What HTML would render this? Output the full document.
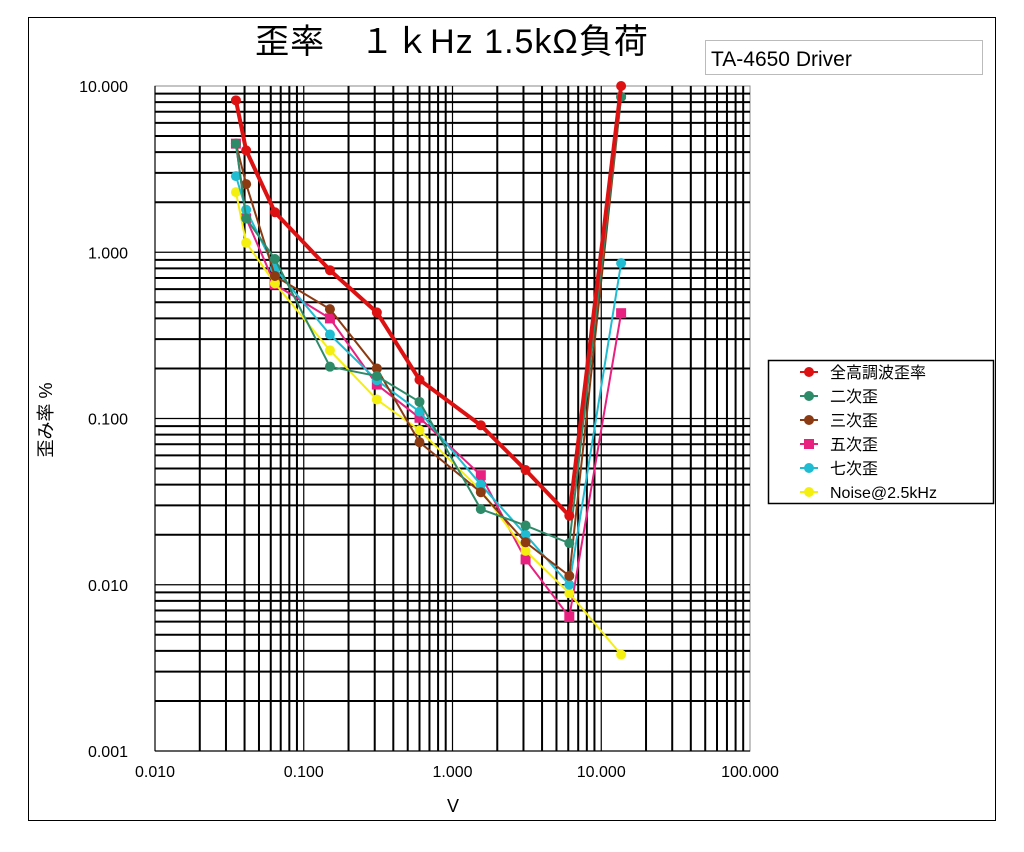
<!DOCTYPE html>
<html><head><meta charset="utf-8">
<style>
html,body{margin:0;padding:0;background:#fff;}
body{width:1024px;height:847px;position:relative;overflow:hidden;font-family:"Liberation Sans","Noto Sans CJK JP",sans-serif;}
svg text{font-family:"Liberation Sans","Noto Sans CJK JP",sans-serif;}
</style></head>
<body>
<svg id="chart" width="1024" height="847" viewBox="0 0 1024 847" xmlns="http://www.w3.org/2000/svg">
<rect x="28.5" y="17.5" width="967" height="803" fill="#fff" stroke="#000" stroke-width="1"/>
<text x="452" y="53" font-size="34" text-anchor="middle" fill="#000" letter-spacing="1">歪率　１ｋHz 1.5kΩ負荷</text>
<rect x="705.5" y="40.5" width="277" height="34" fill="#fff" stroke="#bbb"/>
<text x="711" y="66" font-size="21" fill="#000">TA-4650 Driver</text>
<g id="grid"></g>
<g id="axes"></g>
<g id="series"></g>
<text x="453" y="812" font-size="18" text-anchor="middle">V</text>
<text transform="translate(52,420) rotate(-90)" font-size="18" text-anchor="middle">歪み率 %</text>
<g>
<rect x="768.5" y="360.5" width="225" height="143" fill="#fff" stroke="#000" stroke-width="1.5"/>
<g id="legend-items"></g>
</g>
</svg>
<script>
const xValues = [0.035,0.041,0.064,0.15,0.31,0.6,1.55,3.1,6.1,13.6];
const thdValues = [8.2,4.1,1.74,0.78,0.435,0.171,0.091,0.049,0.026,10.0];
const h2Values = [4.5,1.6,0.91,0.205,0.18,0.126,0.0285,0.0227,0.0178,8.6];
const h3Values = [4.5,2.57,0.72,0.455,0.2,0.072,0.036,0.018,0.0113,8.6];
const h5Values = [4.5,1.6,0.64,0.40,0.16,0.101,0.0456,0.0142,0.0064,0.43];
const h7Values = [2.87,1.8,0.8,0.32,0.17,0.11,0.04,0.02,0.01,0.86];
const noiseValues = [2.3,1.14,0.65,0.257,0.13,0.085,0.037,0.016,0.0089,0.0038];
const xTickLabels = ["0.010","0.100","1.000","10.000","100.000"];
const yTickLabels = ["0.001","0.010","0.100","1.000","10.000"];
const seriesNames = ["全高調波歪率","二次歪","三次歪","五次歪","七次歪","Noise@2.5kHz"];

const NS="http://www.w3.org/2000/svg";
const L=155,R=750,T=86,B=751;
function xs(v){return L+(Math.log10(v)+2)/4*(R-L);}
function ys(v){return B-(Math.log10(v)+3)/4*(B-T);}
function mk(tag,attrs,parent){const e=document.createElementNS(NS,tag);for(const k in attrs)e.setAttribute(k,attrs[k]);parent.appendChild(e);return e;}
const grid=document.getElementById('grid'),axes=document.getElementById('axes'),ser=document.getElementById('series');
mk('rect',{x:L,y:T,width:R-L,height:B-T,fill:'#fff',stroke:'#888'},grid);
for(let d=-2;d<2;d++)for(let m=1;m<10;m++){const v=m*Math.pow(10,d);const x=xs(v);
 const l=mk('line',{x1:x,x2:x,y1:T,y2:B,stroke:'#000','stroke-width':m===1?1.2:2},grid);
 
 }
for(let d=-3;d<1;d++)for(let m=1;m<10;m++){const v=m*Math.pow(10,d);const y=ys(v);
 const l=mk('line',{x1:L,x2:R,y1:y,y2:y,stroke:'#000','stroke-width':m===1?1.2:2},grid);
 
 }
xTickLabels.forEach((t,i)=>{const tx=mk('text',{x:xs(Math.pow(10,i-2)),y:777,'font-size':16,'text-anchor':'middle'},axes);tx.textContent=t;
 
 });
yTickLabels.forEach((t,i)=>{const tx=mk('text',{x:128,y:ys(Math.pow(10,i-3))+6,'font-size':16,'text-anchor':'end'},axes);tx.textContent=t;
 
 });
const all=[[h5Values,'#e8207f',2,'s'],[noiseValues,'#f5ef10',2,'c'],[h7Values,'#1fbcd2',2,'c'],[h3Values,'#8b3a12',2,'c'],[h2Values,'#2e8b6a',2,'c'],[thdValues,'#dd1111',4,'c']];
all.forEach((s,si)=>{const g=mk('g',{},ser);
 
 
 const pts=s[0].map((v,i)=>xs(xValues[i])+','+ys(v)).join(' ');
 const pl=mk('polyline',{points:pts,fill:'none',stroke:s[1],'stroke-width':s[2]},g);
 
 
 s[0].forEach((v,i)=>{let m;
  if(s[3]==='s')m=mk('rect',{x:xs(xValues[i])-5,y:ys(v)-5,width:10,height:10,fill:s[1]},g);
  else m=mk('circle',{cx:xs(xValues[i]),cy:ys(v),r:5,fill:s[1]},g);
  
  });});
const li=document.getElementById('legend-items');
const legCols=['#dd1111','#2e8b6a','#8b3a12','#e8207f','#1fbcd2','#f5ef10'];
seriesNames.forEach((n,i)=>{const y=372+i*24;
 mk('line',{x1:800,x2:818,y1:y,y2:y,stroke:legCols[i],'stroke-width':2},li);
 let m;
 if(i===3)m=mk('rect',{x:804,y:y-5,width:10,height:10,fill:legCols[i]},li);
 else m=mk('circle',{cx:809,cy:y,r:5,fill:legCols[i]},li);
 
 
 const t=mk('text',{x:830,y:y+6,'font-size':16},li);t.textContent=n;
 
 });
</script>
</body></html>
